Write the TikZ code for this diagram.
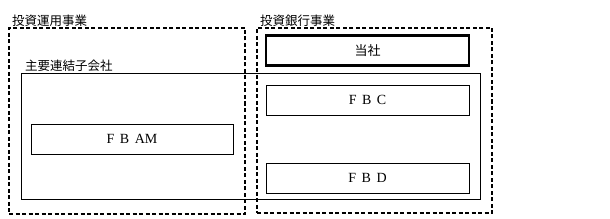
\documentclass[tikz,border=0pt]{standalone}
\usepackage{fontspec}
\setmainfont{Liberation Serif}
\newfontfamily\jafont{Noto Sans CJK JP}
\usetikzlibrary{positioning}
\newcommand{\gap}{\hspace{5.5pt}}
\tikzset{
  segbox/.style={draw, dash pattern=on 4pt off 2.5pt, line width=1.1pt, inner sep=0pt},
  groupbox/.style={draw, line width=0.8pt, inner sep=0pt},
  cobox/.style={draw, line width=0.8pt, inner sep=0pt,
    minimum width=203pt, minimum height=30pt, font=\fontsize{14}{16}\selectfont},
  parentbox/.style={cobox, line width=2.4pt, font=\jafont\fontsize{13}{15}\selectfont},
  tag/.style={anchor=south west, inner sep=1pt, font=\jafont\fontsize{12.5}{14}\selectfont}
}

\begin{document}
\begin{tikzpicture}[x=1pt, y=-1pt]
\useasboundingbox (0,0) rectangle (610,219);

\node[segbox, minimum width=236pt, minimum height=186pt] (asset) at (127,121) {};
\node[segbox, minimum width=235pt, minimum height=185pt] (bank) at (374.5,120.5) {};
\node[groupbox, minimum width=459pt, minimum height=126pt] (group) at (250.5,136) {};

\node[tag] (assettag) at (11,28) {投資運用事業};
\node[tag] (banktag) at (259,28) {投資銀行事業};
\node[tag] (grouptag) at (24,73) {主要連結子会社};

\node[parentbox] (parent) at (367.5,50.5) {当社};
\node[cobox] (fbc) at (367.5,100) {F\gap B\gap C};
\node[cobox] (fbd) at (367.5,178) {F\gap B\gap D};
\node[cobox, minimum width=202pt] (fbam) at (132,139) {F\gap B\gap AM};
\end{tikzpicture}
\end{document}
